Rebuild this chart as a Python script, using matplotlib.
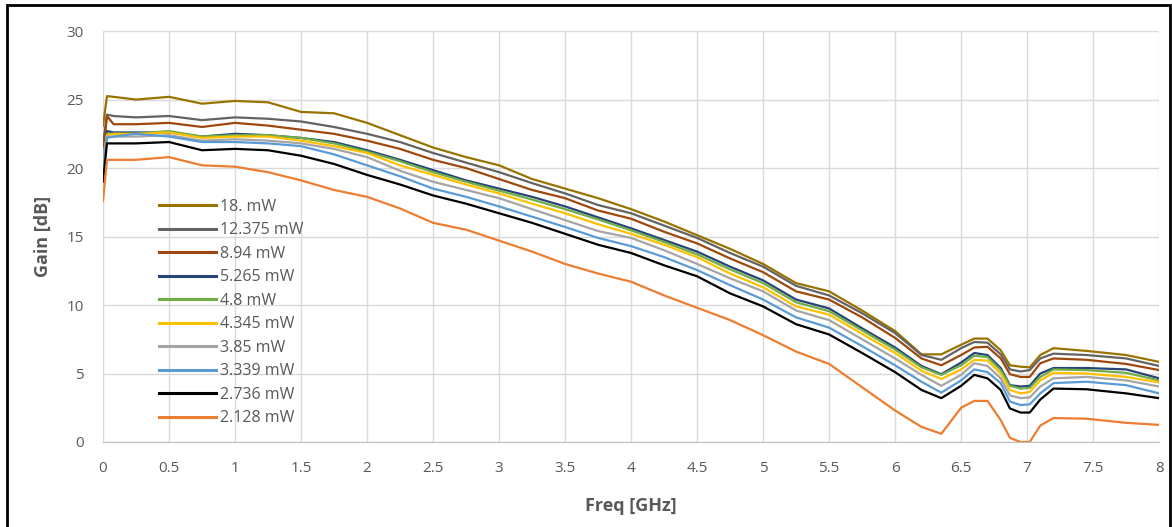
import numpy as np
import matplotlib
matplotlib.use('Agg')
import matplotlib.pyplot as plt
from matplotlib.patches import Rectangle

plt.rcParams['font.family'] = ['Open Sans', 'DejaVu Sans']

freq = [0, 0.03, 0.08, 0.25, 0.5, 0.75, 1.0, 1.25, 1.5, 1.75, 2.0, 2.25, 2.5, 2.75,
        3.0, 3.25, 3.5, 3.75, 4.0, 4.25, 4.5, 4.75, 5.0, 5.25, 5.5, 5.75, 6.0, 6.2,
        6.35, 6.5, 6.6, 6.7, 6.8, 6.87, 6.95, 7.02, 7.1, 7.2, 7.45, 7.75, 8.0]

labels = ['18. mW', '12.375 mW', '8.94 mW', '5.265 mW', '4.8 mW',
          '4.345 mW', '3.85 mW', '3.339 mW', '2.736 mW', '2.128 mW']
colors = ['#997300', '#636363', '#9E480E', '#264478', '#70AD47',
          '#FFC000', '#A5A5A5', '#5B9BD5', '#000000', '#ED7D31']

g_18000 = [23.1, 25.25, 25.2, 25.0, 25.2, 24.7, 24.9, 24.8, 24.1, 24.0, 23.3, 22.4, 21.5, 20.8,
           20.2, 19.2, 18.5, 17.8, 17.0, 16.1, 15.1, 14.1, 13.0, 11.6, 11.0, 9.6, 8.1, 6.4,
           6.4, 7.1, 7.55, 7.55, 6.7, 5.6, 5.5, 5.45, 6.35, 6.85, 6.65, 6.35, 5.85]
g_12375 = [21.8, 23.9, 23.8, 23.7, 23.8, 23.5, 23.7, 23.6, 23.4, 23.0, 22.5, 21.9, 21.1, 20.4,
           19.7, 18.9, 18.15, 17.3, 16.7, 15.8, 14.9, 13.8, 12.8, 11.4, 10.7, 9.4, 7.95, 6.35,
           6.0, 6.85, 7.3, 7.25, 6.4, 5.3, 5.15, 5.25, 6.1, 6.45, 6.35, 6.1, 5.55]
g_8940 = [21.0, 23.8, 23.2, 23.2, 23.3, 23.0, 23.3, 23.1, 22.8, 22.5, 22.0, 21.4, 20.6, 20.0,
          19.2, 18.4, 17.8, 16.9, 16.3, 15.35, 14.5, 13.4, 12.4, 11.0, 10.4, 9.1, 7.6, 6.1,
          5.6, 6.35, 6.9, 6.95, 6.1, 4.95, 4.75, 4.75, 5.75, 6.1, 6.0, 5.7, 5.25]
g_5265 = [20.0, 22.7, 22.6, 22.6, 22.6, 22.3, 22.5, 22.4, 22.2, 21.9, 21.3, 20.6, 19.85, 19.1,
          18.5, 17.9, 17.2, 16.4, 15.6, 14.75, 13.9, 12.8, 11.8, 10.4, 9.75, 8.3, 6.9, 5.55,
          4.95, 5.8, 6.5, 6.35, 5.4, 4.15, 4.05, 4.1, 5.0, 5.4, 5.4, 5.3, 4.65]
g_4800 = [20.3, 22.5, 22.5, 22.5, 22.7, 22.3, 22.4, 22.4, 22.2, 21.8, 21.2, 20.5, 19.7, 19.0,
          18.35, 17.7, 17.0, 16.25, 15.45, 14.6, 13.7, 12.6, 11.6, 10.2, 9.55, 8.15, 6.75, 5.45,
          4.9, 5.6, 6.3, 6.2, 5.25, 4.1, 3.9, 3.95, 4.75, 5.3, 5.25, 5.05, 4.5]
g_4345 = [20.5, 22.4, 22.5, 22.5, 22.6, 22.2, 22.3, 22.3, 22.0, 21.6, 21.1, 20.2, 19.5, 18.8,
          18.15, 17.4, 16.7, 15.9, 15.2, 14.4, 13.5, 12.3, 11.3, 9.9, 9.3, 7.9, 6.5, 5.2,
          4.6, 5.3, 6.0, 5.95, 5.0, 3.8, 3.55, 3.65, 4.5, 5.05, 5.0, 4.75, 4.35]
g_3850 = [20.8, 22.3, 22.3, 22.3, 22.4, 22.0, 22.1, 22.0, 21.8, 21.4, 20.8, 19.8, 19.0, 18.4,
          17.8, 17.0, 16.2, 15.4, 14.9, 14.0, 13.0, 11.95, 11.0, 9.6, 8.9, 7.5, 6.1, 4.9,
          4.1, 4.9, 5.75, 5.55, 4.65, 3.4, 3.2, 3.25, 4.05, 4.65, 4.75, 4.5, 4.05]
g_3339 = [19.8, 22.2, 22.3, 22.5, 22.3, 21.9, 21.9, 21.8, 21.6, 21.0, 20.2, 19.4, 18.5, 17.9,
          17.2, 16.45, 15.7, 14.9, 14.3, 13.5, 12.55, 11.45, 10.4, 9.1, 8.35, 7.0, 5.6, 4.4,
          3.6, 4.5, 5.3, 5.1, 4.3, 2.95, 2.7, 2.75, 3.55, 4.3, 4.4, 4.15, 3.55]
g_2736 = [19.0, 21.8, 21.8, 21.8, 21.9, 21.3, 21.4, 21.3, 20.9, 20.3, 19.5, 18.8, 18.0, 17.4,
          16.7, 16.0, 15.2, 14.4, 13.8, 12.9, 12.1, 10.85, 9.9, 8.6, 7.85, 6.5, 5.1, 3.8,
          3.2, 4.1, 4.9, 4.65, 3.8, 2.45, 2.15, 2.15, 3.1, 3.9, 3.85, 3.55, 3.2]
g_2128 = [17.6, 20.6, 20.6, 20.6, 20.8, 20.2, 20.1, 19.7, 19.1, 18.4, 17.9, 17.05, 16.0, 15.5,
          14.7, 13.9, 13.0, 12.3, 11.7, 10.7, 9.8, 8.9, 7.8, 6.6, 5.7, 4.0, 2.3, 1.1,
          0.6, 2.5, 3.0, 3.0, 1.6, 0.3, 0.0, 0.0, 1.2, 1.75, 1.7, 1.4, 1.25]

series = [g_18000, g_12375, g_8940, g_5265, g_4800,
          g_4345, g_3850, g_3339, g_2736, g_2128]

fig = plt.figure(figsize=(11.72, 5.27), dpi=100)
ax = fig.add_axes([0.0879, 0.1613, 0.9011, 0.7797])

for vals, lab, c in zip(series, labels, colors):
    ax.plot(freq, vals, color=c, linewidth=1.6, label=lab)

ax.set_xlim(0, 8)
ax.set_ylim(0, 30)
ax.set_xticks(np.arange(0, 8.01, 0.5))
ax.set_xticklabels(['0', '0.5', '1', '1.5', '2', '2.5', '3', '3.5', '4',
                    '4.5', '5', '5.5', '6', '6.5', '7', '7.5', '8'])
ax.set_yticks(np.arange(0, 31, 5))
ax.grid(True, color='#D9D9D9', linewidth=1)
ax.set_axisbelow(True)
for s in ['top', 'right', 'left']:
    ax.spines[s].set_visible(False)
ax.spines['bottom'].set_color('#BFBFBF')
ax.tick_params(length=0, labelsize=11, labelcolor='#595959')
ax.tick_params(axis='y', pad=14)
ax.tick_params(axis='x', pad=14)

ax.set_xlabel('Freq [GHz]', fontsize=13, fontweight='bold', color='#595959', labelpad=15)
ax.set_ylabel('Gain [dB]', fontsize=13, fontweight='bold', color='#595959', labelpad=10)

leg = ax.legend(loc='upper left', bbox_to_anchor=(0.053, 0.592), frameon=False,
                fontsize=11.5, labelspacing=0.47, handlelength=3.6, handletextpad=0.2,
                borderaxespad=0, borderpad=0)
for t in leg.get_texts():
    t.set_color('#595959')
for h in leg.get_lines():
    h.set_linewidth(2.2)

fig.patches.append(Rectangle((0.006, -0.01), 0.992, 1.0, transform=fig.transFigure,
                             fill=False, edgecolor='black', linewidth=2))

fig.savefig('out.png', dpi=100)
